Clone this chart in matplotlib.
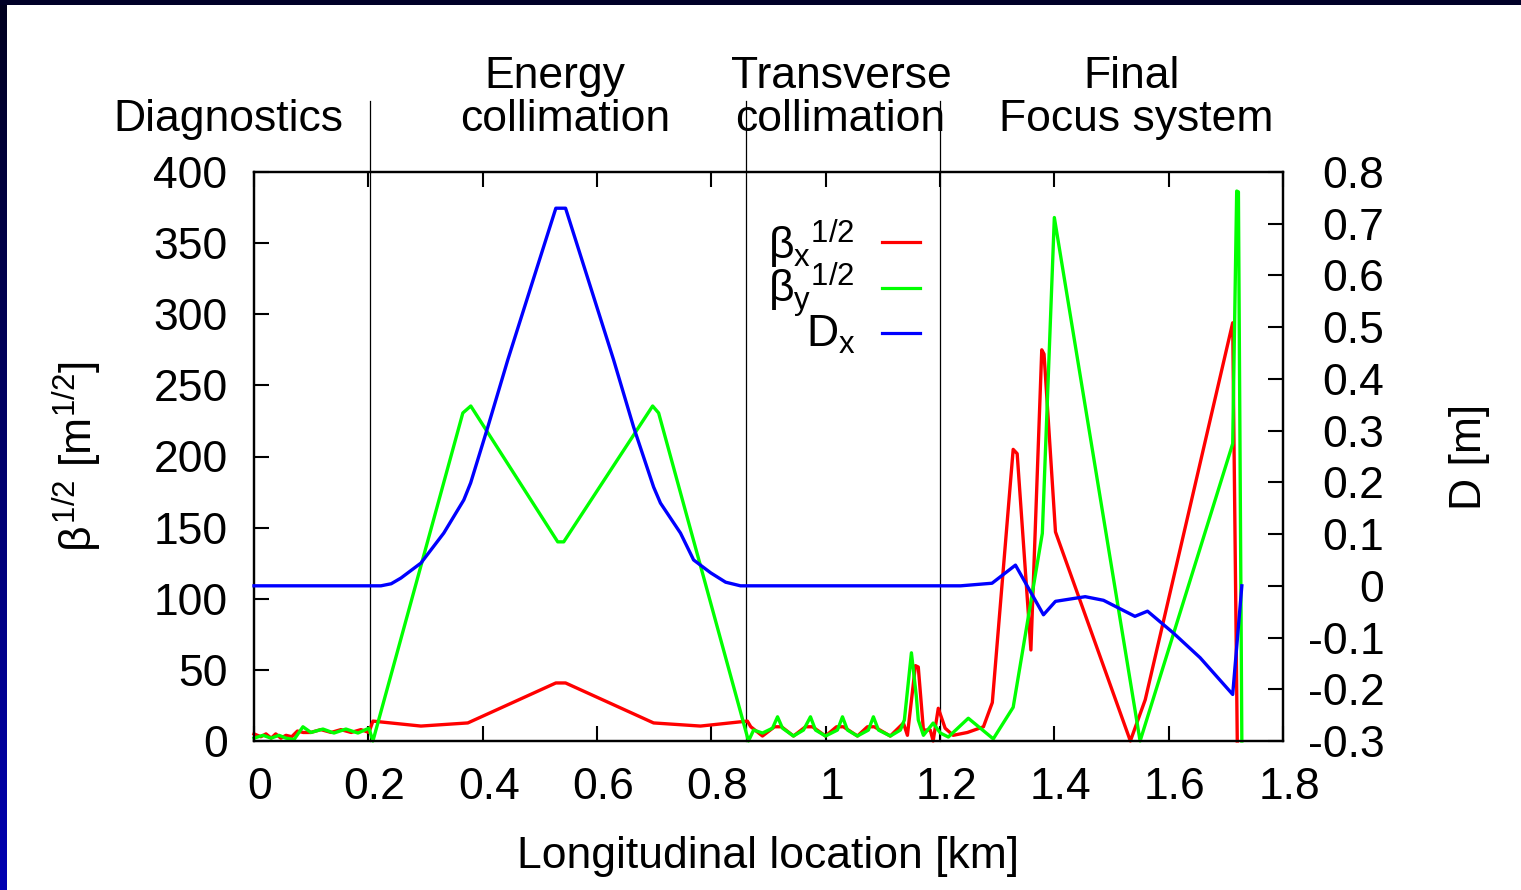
import numpy as np
import matplotlib
matplotlib.use("Agg")
import matplotlib.pyplot as plt
from matplotlib.lines import Line2D
from matplotlib.transforms import ScaledTranslation

plt.rcParams['font.family'] = ['Liberation Sans', 'DejaVu Sans']
plt.rcParams['mathtext.fontset'] = 'custom'
plt.rcParams['mathtext.rm'] = 'Liberation Sans'
plt.rcParams['mathtext.it'] = 'Liberation Sans'
plt.rcParams['mathtext.bf'] = 'Liberation Sans:bold'
plt.rcParams['axes.unicode_minus'] = False

# ---------------- data ----------------
bx_s = [0.000, 0.012, 0.021, 0.030, 0.038, 0.047, 0.056, 0.066, 0.076, 0.086, 0.099,
        0.117, 0.135, 0.152, 0.170, 0.187, 0.201, 0.208, 0.222, 0.292, 0.374, 0.528,
        0.545, 0.699, 0.781, 0.863, 0.869, 0.8895, 0.9105, 0.9228, 0.9437, 0.9647,
        0.977, 0.9997, 1.019, 1.031, 1.0556, 1.073, 1.085, 1.113, 1.136, 1.143, 1.157,
        1.162, 1.171, 1.183, 1.188, 1.197, 1.209, 1.223, 1.248, 1.276, 1.2915, 1.328,
        1.335, 1.359, 1.378, 1.382, 1.402, 1.533, 1.559, 1.712, 1.720]
bx_v = [5, 3, 5, 2, 5, 2, 4, 3, 7, 6, 6,
        8, 6, 8, 6, 8, 6, 14, 13.4, 10.5, 12.7, 40.8,
        40.8, 12.7, 10.5, 14, 10, 3.5, 10, 10, 3.5, 10,
        10, 3.5, 10, 10, 3.5, 10, 10, 3.5, 12.6, 4, 53,
        52, 7.7, 7.7, 0, 23, 9, 4, 6, 10, 27, 205,
        202, 64, 275, 272, 147, 0, 29, 294, 0]

by_s = [0.000, 0.0157, 0.0297, 0.0437, 0.056, 0.070, 0.0856, 0.0996, 0.1206, 0.1398,
        0.1608, 0.1818, 0.201, 0.208, 0.3653, 0.3792, 0.5313, 0.5418, 0.6973, 0.7078,
        0.865, 0.874, 0.8895, 0.907, 0.9158, 0.9245, 0.9437, 0.9612, 0.9734, 0.9822,
        0.9997, 1.0206, 1.0294, 1.0381, 1.0556, 1.0748, 1.0835, 1.0923, 1.1132, 1.1307,
        1.1377, 1.150, 1.1587, 1.162, 1.171, 1.188, 1.2006, 1.2146, 1.2495, 1.2932,
        1.328, 1.379, 1.400, 1.550, 1.712, 1.719, 1.722, 1.728]
by_v = [2, 4, 2, 4, 2, 1, 10, 6, 8.4, 5.6,
        8.4, 5.6, 9, 0, 230.6, 235.5, 140, 140, 235.5, 230.6,
        0, 7.7, 5.6, 9, 17, 9, 3.5, 7.7, 17, 7.7,
        3.5, 7.7, 17, 7.7, 3.5, 7.7, 17, 7.7, 3.5, 7.7,
        14.8, 62, 31, 14.8, 4, 12.6, 5.6, 2.8, 16, 1.5,
        23.7, 146, 368, 0, 209, 386.6, 386, 0]

dx_s = [0.000, 0.222, 0.240, 0.257, 0.292, 0.332, 0.367, 0.379, 0.409, 0.444, 0.528,
        0.545, 0.629, 0.664, 0.699, 0.711, 0.746, 0.769, 0.799, 0.825, 0.851, 1.236,
        1.291, 1.332, 1.381, 1.402, 1.454, 1.486, 1.541, 1.563, 1.608, 1.655, 1.712,
        1.728]
dx_v = [0.0, 0.0, 0.004, 0.015, 0.044, 0.102, 0.166, 0.199, 0.307, 0.437, 0.730,
        0.730, 0.437, 0.307, 0.191, 0.160, 0.102, 0.050, 0.025, 0.007, 0.0, 0.0,
        0.005, 0.040, -0.056, -0.030, -0.021, -0.028, -0.059, -0.049, -0.091, -0.139,
        -0.210, 0.0]

section_bounds = [0.2027, 0.860, 1.2006]
section_labels = [["Diagnostics"], ["Energy", "collimation"],
                  ["Transverse", "collimation"], ["Final", "Focus system"]]

xticks = [0, 0.2, 0.4, 0.6, 0.8, 1.0, 1.2, 1.4, 1.6, 1.8]
xtick_labels = ["0", "0.2", "0.4", "0.6", "0.8", "1", "1.2", "1.4", "1.6", "1.8"]
yticks = [0, 50, 100, 150, 200, 250, 300, 350, 400]
ytick_labels = ["0", "50", "100", "150", "200", "250", "300", "350", "400"]
y2ticks = [-0.3, -0.2, -0.1, 0.0, 0.1, 0.2, 0.3, 0.4, 0.5, 0.6, 0.7, 0.8]
y2tick_labels = ["-0.3", "-0.2", "-0.1", "0", "0.1", "0.2", "0.3", "0.4", "0.5",
                 "0.6", "0.7", "0.8"]

series_labels = [r'$\beta_{x}{}^{1/2}$', r'$\beta_{y}{}^{1/2}$', r'$D_{x}$']
colors = ['#ff0000', '#00ff00', '#0000ff']

# ---------------- figure ----------------
W, H = 1521, 890
fig = plt.figure(figsize=(W / 100, H / 100), dpi=100)
fig.patch.set_facecolor('white')

# dark blue frame (left gradient band + top band)
axl = fig.add_axes([0, 0, 7 / W, 1])
grad = np.linspace(0, 1, 256).reshape(-1, 1)
axl.imshow(np.dstack([np.zeros_like(grad), np.zeros_like(grad),
                      0.12 + 0.58 * grad]), aspect='auto', origin='upper')
axl.axis('off')
axt = fig.add_axes([0, 1 - 5 / H, 1, 5 / H])
axt.set_facecolor('#000028')
axt.set_xticks([]); axt.set_yticks([])
for s in axt.spines.values():
    s.set_visible(False)

FS = 32
ax = fig.add_axes([254 / W, (H - 741) / H, (1283 - 254) / W, (741 - 172) / H])
ax2 = ax.twinx()

lw = 2.4
ax.plot(bx_s, bx_v, color=colors[0], lw=lw, clip_on=False, zorder=3)
ax.plot(by_s, by_v, color=colors[1], lw=lw, clip_on=False, zorder=3)
ax2.plot(dx_s, dx_v, color=colors[2], lw=lw, clip_on=False, zorder=3)

ax.set_xlim(0, 1.8)
ax.set_ylim(0, 400)
ax2.set_ylim(-0.3, 0.8)

ax.set_xticks(xticks)
ax.set_xticklabels(xtick_labels, fontsize=FS)
ax.set_yticks(yticks)
ax.set_yticklabels(ytick_labels, fontsize=FS)
ax2.set_yticks(y2ticks)
ax2.set_yticklabels(y2tick_labels, fontsize=FS, ha='right')

ax.tick_params(axis='x', direction='in', length=11, width=1.5, top=True, pad=19)
ax.tick_params(axis='y', direction='in', length=11, width=1.5, right=False, pad=19)
ax2.tick_params(axis='y', direction='in', length=11, width=1.5, pad=73)
for a in (ax, ax2):
    for s in a.spines.values():
        s.set_linewidth(1.6)

# gnuplot places x tick labels slightly right of the tick
shift = ScaledTranslation(6 / 100, 0, fig.dpi_scale_trans)
for lab in ax.get_xticklabels():
    lab.set_transform(lab.get_transform() + shift)

ax.set_xlabel('Longitudinal location [km]', fontsize=FS, va='center')
ax.xaxis.set_label_coords(0.4995, -0.203)
ax.set_ylabel(r'$\beta^{1/2}$ [m$^{1/2}$]', fontsize=FS, va='center')
ax.yaxis.set_label_coords(-0.172, 0.5)
ax2.set_ylabel('D [m]', fontsize=FS, va='center')
ax2.yaxis.set_label_coords(1.1817, 0.5)

# section boundaries
ytop = (741 - 101) / 569
for xb in section_bounds:
    ax.axvline(xb, ymin=0, ymax=ytop, color='black', lw=0.9, clip_on=False, zorder=2)

# section titles (x centers and baselines in pixels)
title_centers = [[228], [555, 565], [841, 840], [1132, 1136]]
title_baselines = [[131], [88, 131], [88, 131], [88, 131]]
for lines, cxs, bys in zip(section_labels, title_centers, title_baselines):
    for t, cx, by in zip(lines, cxs, bys):
        fig.text(cx / W, 1 - by / H, t, fontsize=FS, ha='center', va='baseline')

# legend (manual, gnuplot style: text right, sample line after)
leg_y = [242, 288, 333]
for lab, c, yy in zip(series_labels, colors, leg_y):
    fig.text(855 / W, 1 - (yy + 2) / H, lab, fontsize=FS, ha='right', va='center')
    fig.add_artist(Line2D([882 / W, 920 / W], [1 - yy / H, 1 - yy / H],
                          color=c, lw=2.3, transform=fig.transFigure))

fig.savefig('out.png', dpi=100)
